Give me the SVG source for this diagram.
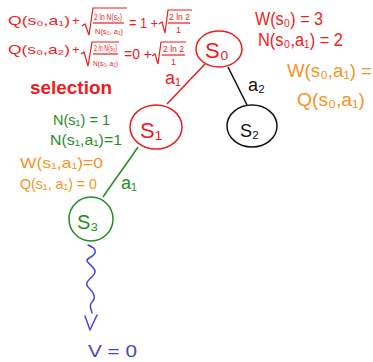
<svg xmlns="http://www.w3.org/2000/svg" width="373" height="362" viewBox="0 0 373 362">
<style>
text{font-family:"Liberation Sans","DejaVu Sans",sans-serif}
.r{fill:#ee1c1c}.o{fill:#f7941d}.g{fill:#1f8f1f}.b{fill:#4646d2}.k{fill:#111}
.nr{fill:none;stroke:#ee1c1c;stroke-width:1.5}
.ng{fill:none;stroke:#1f8f1f;stroke-width:1.5}
.nk{fill:none;stroke:#111;stroke-width:1.5}
.nb{fill:none;stroke:#4646d2;stroke-width:1.5;stroke-linecap:round;stroke-linejoin:round}
.sr{fill:none;stroke:#ee1c1c;stroke-width:1.2}
</style>
<rect width="373" height="362" fill="#fff"/>
<g id="formulas">
<text class="r" x="8" y="25" font-size="13" textLength="62" lengthAdjust="spacingAndGlyphs">Q(s₀,a₁)</text>
<text class="r" x="72" y="25" font-size="13">+</text>
<path class="sr" d="M82,26 L85,24 L89,35 L93,8 L127,8"/>
<text class="r" x="94" y="20" font-size="9" textLength="28" lengthAdjust="spacingAndGlyphs">2 ln N(s₀)</text>
<line class="sr" x1="93" y1="23" x2="124" y2="23"/>
<text class="r" x="95" y="34" font-size="8" textLength="28" lengthAdjust="spacingAndGlyphs">N(s₀, a₁)</text>
<text class="r" x="129" y="28" font-size="14" textLength="29" lengthAdjust="spacingAndGlyphs">= 1 +</text>
<path class="sr" d="M159,24 L162,22 L165,33 L168,10 L192,10"/>
<text class="r" x="169" y="20" font-size="9" textLength="21" lengthAdjust="spacingAndGlyphs">2 ln 2</text>
<line class="sr" x1="168" y1="23" x2="190" y2="23"/>
<text class="r" x="176" y="33" font-size="9">1</text>
<text class="r" x="8" y="54" font-size="13" textLength="62" lengthAdjust="spacingAndGlyphs">Q(s₀,a₂)</text>
<text class="r" x="72" y="54" font-size="13">+</text>
<path class="sr" d="M81,54 L84,52 L88,66 L92,42 L119,42"/>
<text class="r" x="94" y="51" font-size="9" textLength="23" lengthAdjust="spacingAndGlyphs">2 ln N(s₀)</text>
<line class="sr" x1="93" y1="54" x2="118" y2="54"/>
<text class="r" x="93" y="66" font-size="8" textLength="25" lengthAdjust="spacingAndGlyphs">N(s₀, a₂)</text>
<text class="r" x="124" y="59" font-size="14" textLength="28" lengthAdjust="spacingAndGlyphs">=0 +</text>
<path class="sr" d="M152,56 L155,54 L158,64 L161,42 L186,42"/>
<text class="r" x="163" y="52" font-size="9" textLength="21" lengthAdjust="spacingAndGlyphs">2 ln 2</text>
<line class="sr" x1="162" y1="55" x2="185" y2="55"/>
<text class="r" x="171" y="65" font-size="9">1</text>
<text class="r" x="30" y="94" font-size="19" font-weight="bold" textLength="82" lengthAdjust="spacingAndGlyphs">selection</text>
</g>
<g id="stats">
<text class="r" x="255" y="25" font-size="18" textLength="68" lengthAdjust="spacingAndGlyphs">W(s₀) = 3</text>
<text class="r" x="258" y="46" font-size="18" textLength="85" lengthAdjust="spacingAndGlyphs">N(s₀,a₁) = 2</text>
<text class="o" x="287" y="77" font-size="18" textLength="85" lengthAdjust="spacingAndGlyphs">W(s₀,a₁) =</text>
<text class="o" x="297" y="106" font-size="18" textLength="68" lengthAdjust="spacingAndGlyphs">Q(s₀,a₁)</text>
<text class="g" x="53" y="125" font-size="15" textLength="57" lengthAdjust="spacingAndGlyphs">N(s₁) = 1</text>
<text class="g" x="50" y="145" font-size="15" textLength="72" lengthAdjust="spacingAndGlyphs">N(s₁,a₁)=1</text>
<text class="o" x="20" y="168" font-size="15" textLength="83" lengthAdjust="spacingAndGlyphs">W(s₁,a₁)=0</text>
<text class="o" x="20" y="189" font-size="15" textLength="77" lengthAdjust="spacingAndGlyphs">Q(s₁, a₁) = 0</text>
</g>
<g id="connectors">
<path class="nr" d="M205,64 L167,104"/>
<text class="r" x="165" y="84" font-size="18">a₁</text>
<path class="nk" d="M228,67 L247,105"/>
<text class="k" x="248" y="91" font-size="18">a₂</text>
<path class="ng" d="M138,147 C128,162 116,178 103,197"/>
<text class="g" x="121" y="189" font-size="18">a₁</text>
<path class="nb" d="M88,245 C98,249 97,254 89,258 C82,262 96,266 95,272 C94,278 83,281 88,287 C93,292 97,297 92,302 C88,306 92,310 92,313"/>
<polyline class="nb" points="85,316 90,330 97,315"/>
</g>
<g id="s0">
<ellipse class="nr" cx="219" cy="49" rx="23" ry="18"/>
<text class="r" x="205" y="58" font-size="22">S₀</text>
</g>
<g id="s1">
<ellipse class="nr" cx="156" cy="127" rx="26" ry="22"/>
<text class="r" x="140" y="138" font-size="22">S₁</text>
</g>
<g id="s2">
<ellipse class="nk" cx="252" cy="126" rx="25" ry="21"/>
<text class="k" x="240" y="137" font-size="18">S₂</text>
</g>
<g id="s3">
<ellipse class="ng" cx="91" cy="219" rx="22" ry="22"/>
<text class="g" x="77" y="229" font-size="20">S₃</text>
</g>
<g id="value">
<text class="b" x="88" y="357" font-size="17" textLength="49" lengthAdjust="spacingAndGlyphs">V = 0</text>
</g>
</svg>
